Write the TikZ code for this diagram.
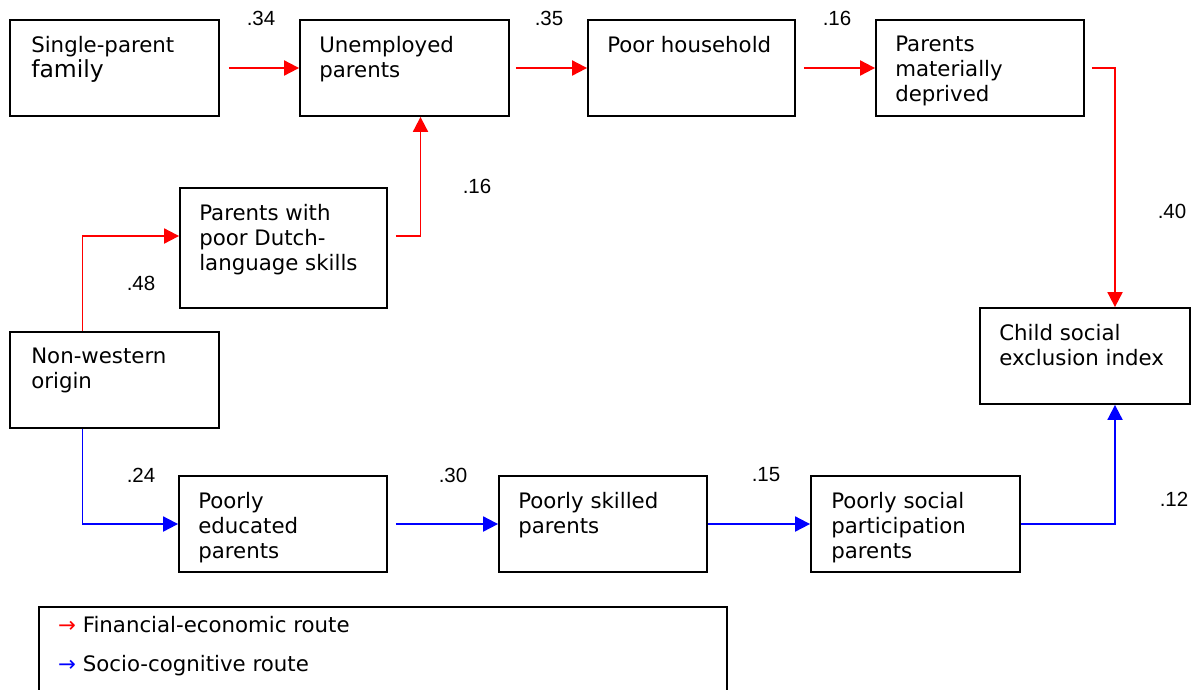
\documentclass[tikz,border=0pt]{standalone}
\usepackage{fontspec}
\setmainfont{DejaVu Sans}
\newfontfamily\coeffont{Liberation Sans}
\usetikzlibrary{arrows.meta,positioning,calc}

\begin{document}
\begin{tikzpicture}[x=1pt,y=-1pt,
  main node/.style={draw=black,line width=1.8pt,rectangle,inner sep=0pt,minimum width=209pt,minimum height=96pt},
  box text/.style={anchor=north west,align=left,inner sep=0pt,font=\fontsize{21.3}{25}\selectfont},
  coef/.style={inner sep=0pt,font=\coeffont\fontsize{20.5}{22}\selectfont},
  fin/.style={draw=red,line width=1.9pt,-{Triangle[length=15pt,width=15pt]}},
  soc/.style={draw=blue,line width=1.9pt,-{Triangle[length=15pt,width=15pt]}}]
\useasboundingbox (0,0) rectangle (1193,689);
% boxes
\node[main node] (single) at (114.5,68) {};
\node[main node] (unemp) at (404.5,68) {};
\node[main node,minimum width=207pt] (poor) at (691.5,68) {};
\node[main node,minimum width=208pt] (matdep) at (980,68) {};
\node[main node,minimum width=207pt,minimum height=120pt] (dutch) at (283.5,248) {};
\node[main node] (nonwest) at (114.5,380) {};
\node[main node,minimum width=210pt] (child) at (1085,356) {};
\node[main node,minimum width=208pt] (educ) at (283,524) {};
\node[main node,minimum width=208pt] (skill) at (603,524) {};
\node[main node] (social) at (915.5,524) {};
% box texts
\begin{scope}[every node/.style={box text}]
\node (tsingle) at ([shift={(22,17)}]single.north west) {Single-parent\\{\fontsize{23.5}{25}\selectfont family}};
\node (tunemp) at ([shift={(20,17)}]unemp.north west) {Unemployed\\parents};
\node (tpoor) at ([shift={(20,17)}]poor.north west) {Poor household};
\node (tmatdep) at ([shift={(20,17)}]matdep.north west) {Parents\\materially\\deprived};
\node (tdutch) at ([shift={(20,17)}]dutch.north west) {Parents with\\poor Dutch-\\language skills};
\node (tnonwest) at ([shift={(22,17)}]nonwest.north west) {Non-western\\origin};
\node (tchild) at ([shift={(20,17)}]child.north west) {Child social\\exclusion index};
\node (teduc) at ([shift={(20,17)}]educ.north west) {Poorly\\educated\\parents};
\node (tskill) at ([shift={(20,17)}]skill.north west) {Poorly skilled\\parents};
\node (tsocial) at ([shift={(21,17)}]social.north west) {Poorly social\\participation\\parents};
\end{scope}
% financial-economic route
\draw[fin] ([xshift=9]single.east) -- (unemp.west);
\draw[fin] ([xshift=6]unemp.east) -- (poor.west);
\draw[fin] ([xshift=8]poor.east) -- (matdep.west);
\draw[fin] ([xshift=7]matdep.east) -| ([xshift=30]child.north);
\draw[fin] ([xshift=8,yshift=12]dutch.east) -| ([xshift=16]unemp.south);
\draw[fin] ([xshift=-32]nonwest.north) |- ([yshift=12]dutch.west);
% socio-cognitive route
\draw[soc] ([xshift=-32]nonwest.south) |- (educ.west);
\draw[soc] ([xshift=8]educ.east) -- (skill.west);
\draw[soc] (skill.east) -- (social.west);
\draw[soc] (social.east) -| ([xshift=30]child.south);
% coefficients
\begin{scope}[every node/.style={coef}]
\node (c1) at (261,18) {.34};
\node (c2) at (549,18) {.35};
\node (c3) at (837,18) {.16};
\node (c4) at (477,186) {.16};
\node (c5) at (141,283) {.48};
\node (c6) at (1172,211) {.40};
\node (c7) at (141,475) {.24};
\node (c8) at (453,475) {.30};
\node (c9) at (766,475) {.15};
\node (c10) at (1174,499) {.12};
\end{scope}
% legend
\node[draw=black,line width=1.8pt,inner sep=0pt,minimum width=688pt,minimum height=100pt,anchor=north west] (legend) at (38,606) {};
\node[anchor=base west,inner sep=0pt,font=\fontsize{21.3}{25}\selectfont] (lfin) at ([shift={(20,26)}]legend.north west) {\textcolor{red}{→}~Financial-economic route};
\node[anchor=base west,inner sep=0pt,font=\fontsize{21.3}{25}\selectfont] (lsoc) at ([shift={(20,65)}]legend.north west) {\textcolor{blue}{→}~Socio-cognitive route};
\end{tikzpicture}
\end{document}
